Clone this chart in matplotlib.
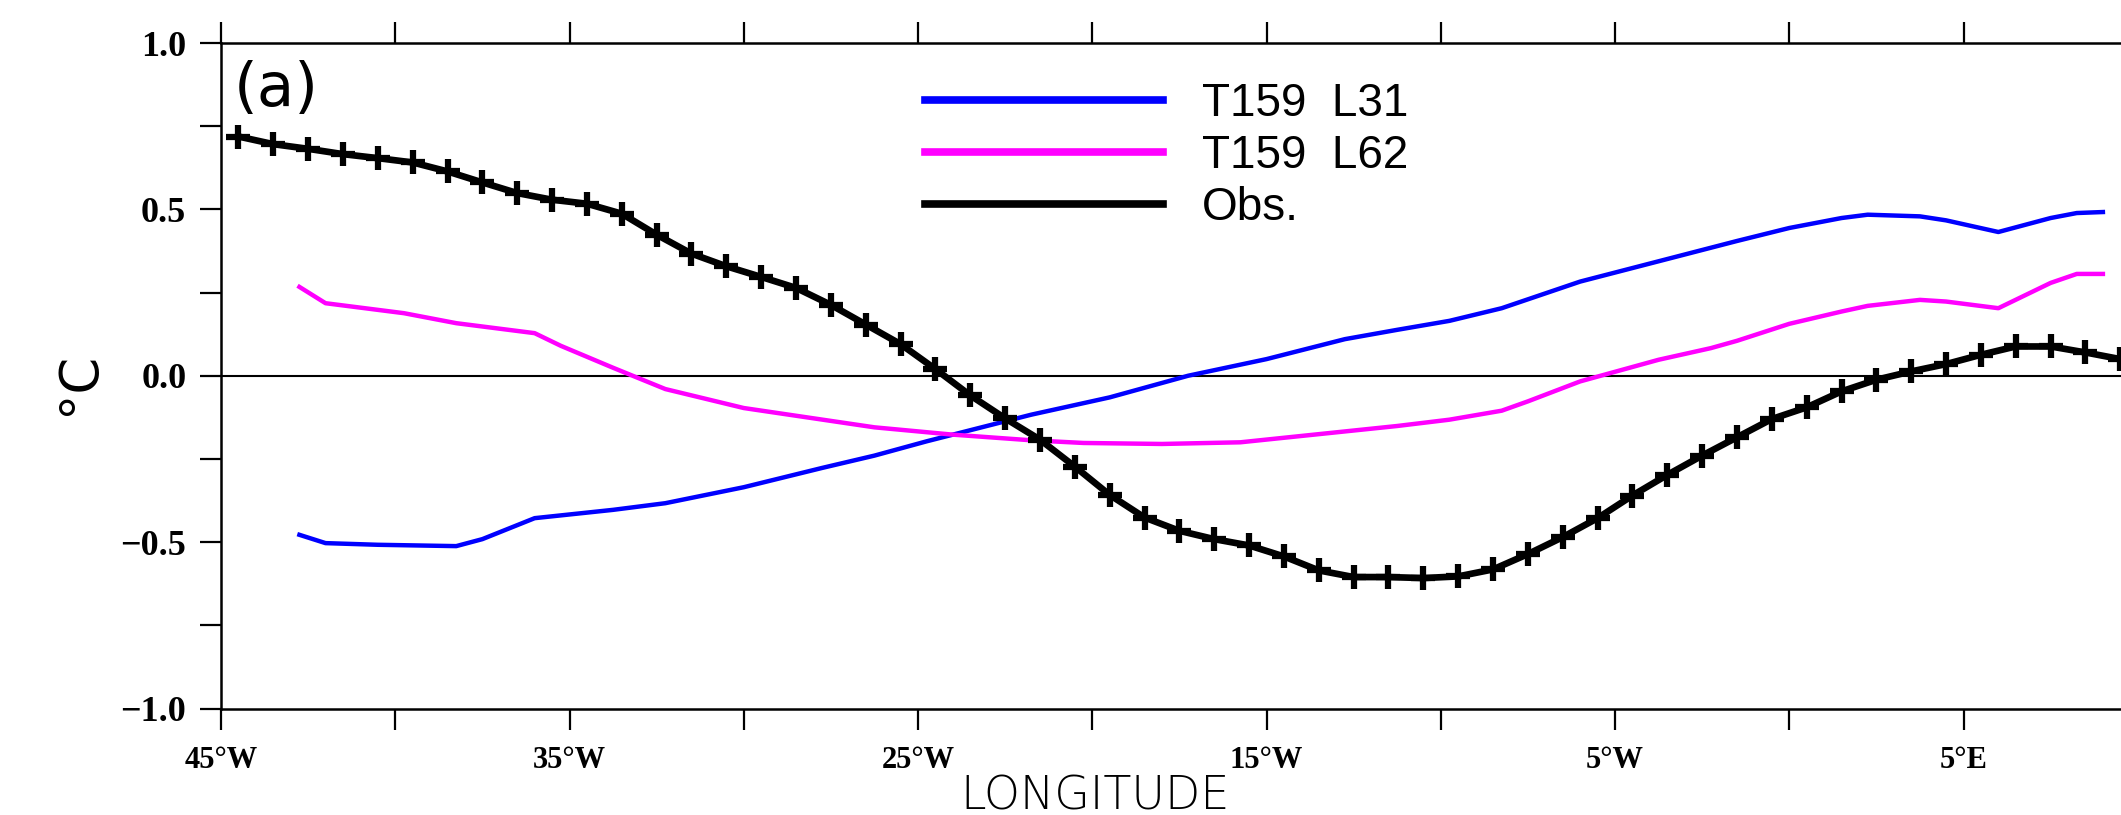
import numpy as np
import matplotlib
matplotlib.use('Agg')
import matplotlib.pyplot as plt
from matplotlib.lines import Line2D
from matplotlib.ticker import MultipleLocator, FixedLocator

# observed curve, one value per degree (half-degree centres)
obs_lon = np.arange(-44.5, 10.0, 1.0)
obs_val = [0.719, 0.696, 0.682, 0.666, 0.654, 0.641, 0.614, 0.581, 0.549, 0.529,
           0.517, 0.487, 0.424, 0.367, 0.329, 0.297, 0.264, 0.213, 0.154, 0.095,
           0.020, -0.059, -0.128, -0.192, -0.273, -0.358, -0.426, -0.466, -0.491, -0.510,
           -0.543, -0.585, -0.605, -0.605, -0.608, -0.603, -0.582, -0.536, -0.485, -0.428,
           -0.360, -0.298, -0.240, -0.185, -0.130, -0.095, -0.047, -0.012, 0.013, 0.035,
           0.063, 0.088, 0.088, 0.070, 0.050]

# T159 L31 (blue)
l31_lon = [-42.75, -42.0, -40.5, -38.25, -37.5, -36.0, -33.75, -32.25, -30.0, -27.75,
           -26.25, -24.75, -23.25, -21.75, -19.5, -17.25, -15.0, -12.75, -11.25, -9.75,
           -8.25, -6.0, -3.75, -1.5, 0.0, 1.5, 2.25, 3.75, 4.5, 6.0, 7.5, 8.25, 9.0]
l31_val = [-0.478, -0.503, -0.508, -0.512, -0.491, -0.428, -0.403, -0.383, -0.335, -0.277,
           -0.240, -0.197, -0.157, -0.117, -0.065, 0.0, 0.05, 0.11, 0.138, 0.165,
           0.203, 0.283, 0.344, 0.405, 0.444, 0.474, 0.484, 0.479, 0.467, 0.432, 0.474, 0.489, 0.492]

# T159 L62 (magenta)
l62_lon = [-42.75, -42.0, -39.75, -38.25, -36.0, -35.25, -33.75, -32.25, -30.0, -26.25,
           -24.0, -21.75, -20.25, -18.0, -15.75, -11.25, -9.75, -8.25, -7.5, -6.0,
           -3.75, -2.25, -1.5, 0.0, 1.5, 2.25, 3.75, 4.5, 6.0, 7.5, 8.25, 9.0]
l62_val = [0.267, 0.218, 0.188, 0.158, 0.128, 0.09, 0.024, -0.04, -0.097, -0.155,
           -0.177, -0.194, -0.202, -0.205, -0.200, -0.151, -0.132, -0.105, -0.077, -0.017,
           0.048, 0.083, 0.105, 0.156, 0.193, 0.210, 0.228, 0.223, 0.203, 0.279, 0.306, 0.306]

xticks = [-45, -35, -25, -15, -5, 5]
xtick_labels = ['45°W', '35°W', '25°W', '15°W', '5°W', '5°E']
xminor = [-40, -30, -20, -10, 0]
yticks = [-1.0, -0.5, 0.0, 0.5, 1.0]
ytick_labels = ['\u22121.0', '\u22120.5', '0.0', '0.5', '1.0']

labels = ['T159  L31', 'T159  L62', 'Obs.']
colors = ['#0000ff', '#ff00ff', '#000000']

W, H = 2121, 815
fig = plt.figure(figsize=(W / 100, H / 100), dpi=100)
ax = fig.add_axes([221 / W, 1 - 708.5 / H, 1 - 221 / W, (708.5 - 43) / H])

ax.set_xlim(-45, -45 + 1900 / 34.85)
ax.set_ylim(-1, 1)

for s in ['left', 'top', 'bottom']:
    ax.spines[s].set_linewidth(1.8)
ax.spines['right'].set_visible(False)

ax.set_xticks(xticks)
ax.set_xticklabels(xtick_labels, family='Liberation Serif', weight='bold', fontsize=22)
ax.xaxis.set_minor_locator(FixedLocator(xminor))
ax.set_yticks(yticks)
ax.set_yticklabels(ytick_labels, family='Liberation Serif', weight='bold', fontsize=26)
ax.yaxis.set_minor_locator(MultipleLocator(0.25))
ax.tick_params(which='both', direction='out', length=15, width=1.6,
               top=True, right=False)
ax.tick_params(axis='x', pad=12)
ax.tick_params(axis='y', pad=10)

ax.axhline(0, color='k', lw=1.5, zorder=1)

ax.plot(l31_lon, l31_val, color=colors[0], lw=3.2, zorder=3)
ax.plot(l62_lon, l62_val, color=colors[1], lw=3.2, zorder=3)
ax.plot(obs_lon, obs_val, color=colors[2], lw=4.8, marker='+', ms=17, mew=4.5, zorder=4)

handles = [Line2D([], [], color=c, lw=5.5) for c in colors]
ax.legend(handles, labels, loc='upper left',
          bbox_to_anchor=((925 - 221) / 1900, (708.5 - 82) / 665.5),
          frameon=False, borderpad=0, borderaxespad=0, handlelength=5.2,
          handletextpad=0.85, labelspacing=0.18,
          prop={'family': 'Liberation Sans', 'size': 33})

fig.text(234 / W, 1 - 89 / H, '(a)', family='DejaVu Sans', fontsize=44,
         ha='left', va='center')
fig.text(79 / W, 1 - 383 / H, '°C', family='DejaVu Sans', fontsize=38,
         rotation=90, ha='center', va='center')
fig.text(1095 / W, 6 / H, 'LONGITUDE', family='DejaVu Sans', fontsize=33,
         weight='light', ha='center', va='baseline')

fig.savefig('out.png', dpi=100)
